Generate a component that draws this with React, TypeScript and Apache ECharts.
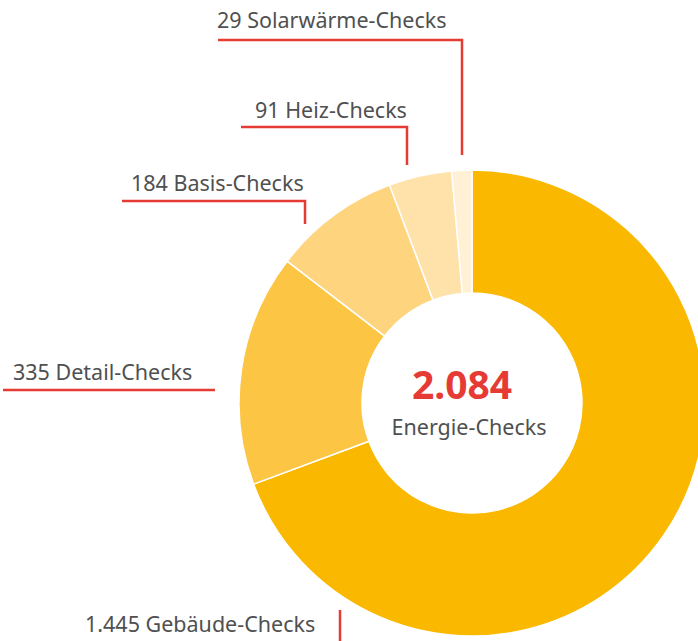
import React, { useEffect, useRef } from "react";
import * as echarts from "echarts";

const categories = ["Gebäude-Checks", "Detail-Checks", "Basis-Checks", "Heiz-Checks", "Solarwärme-Checks"];
const values = [1445, 335, 184, 91, 29];
const valueLabels = ["1.445", "335", "184", "91", "29"];
const colors = ["#FAB800", "#FCC544", "#FED57E", "#FFE2AA", "#FFF0D6"];
const totalLabel = "2.084";
const totalCaption = "Energie-Checks";

const FONT = "'Noto Sans', 'Open Sans', sans-serif";
const RED = "#E63B34";
const TEXT = "#505050";

// label layout: text x, baseline y, and leader polyline points
const labelLayout = [
  { x: 85, y: 634, line: [[340, 610], [340, 641]] },
  { x: 13, y: 382, line: [[3, 390], [215, 390]] },
  { x: 131, y: 193, line: [[122, 201], [305, 201], [305, 224]] },
  { x: 255, y: 120, line: [[241, 127], [407, 127], [407, 165]] },
  { x: 217, y: 30, line: [[218, 40], [462, 40], [462, 155]] },
];

export default function App() {
  const ref = useRef<HTMLDivElement>(null);
  useEffect(() => {
    if (!ref.current) return;
    const chart = echarts.init(ref.current, undefined, { renderer: "svg" });
    const graphic: any[] = [];
    categories.forEach((c, i) => {
      const l = labelLayout[i];
      graphic.push({
        type: "text",
        x: l.x,
        y: l.y,
        style: {
          text: `${valueLabels[i]} ${c}`,
          font: `21.5px ${FONT}`,
          fill: TEXT,
          verticalAlign: "bottom",
        },
      });
      graphic.push({
        type: "polyline",
        shape: { points: l.line },
        style: { stroke: RED, lineWidth: 2.5, fill: "none" },
      });
    });
    graphic.push({
      type: "text",
      x: 462,
      y: 383,
      style: {
        text: totalLabel,
        font: `bold 39px ${FONT}`,
        fill: RED,
        align: "center",
        verticalAlign: "middle",
      },
    });
    graphic.push({
      type: "text",
      x: 469,
      y: 426,
      style: {
        text: totalCaption,
        font: `21.5px ${FONT}`,
        fill: TEXT,
        align: "center",
        verticalAlign: "middle",
      },
    });
    chart.setOption({
      animation: false,
      backgroundColor: "#ffffff",
      series: [
        {
          type: "pie",
          center: [472, 403],
          radius: [110, 233],
          startAngle: 90,
          clockwise: true,
          label: { show: false },
          labelLine: { show: false },
          itemStyle: { borderColor: "#ffffff", borderWidth: 1.5 },
          data: categories.map((c, i) => ({
            name: c,
            value: values[i],
            itemStyle: { color: colors[i] },
          })),
        },
      ],
      graphic,
    });
    return () => chart.dispose();
  }, []);
  return (
    <div
      ref={ref}
      style={{ position: "fixed", left: 0, top: 0, width: 698, height: 641 }}
    />
  );
}
